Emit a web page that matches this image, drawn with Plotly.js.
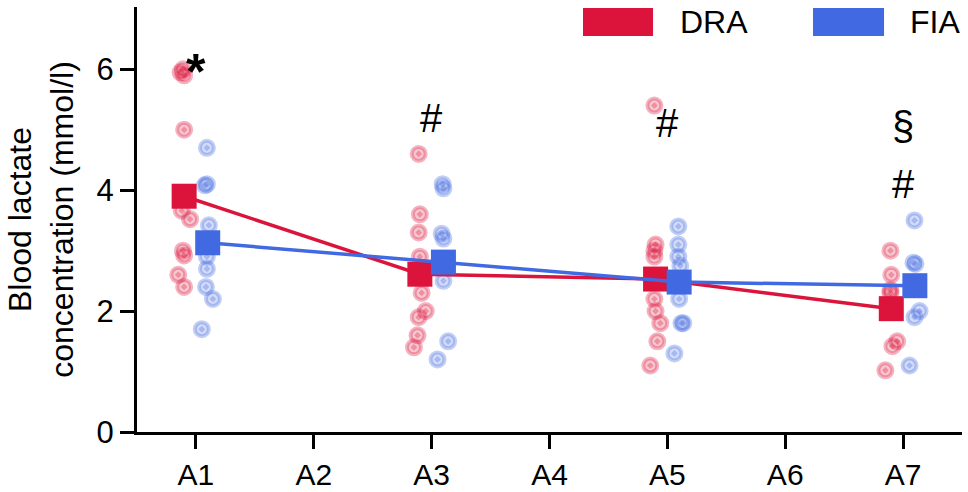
<!DOCTYPE html>
<html>
<head>
<meta charset="utf-8">
<script src="https://cdn.plot.ly/plotly-3.0.1.min.js"></script>
<style>
  html, body { margin: 0; padding: 0; background: #fff; }
  #grafica { width: 968px; height: 492px; }
</style>
</head>
<body>
<div id="grafica"></div>
<script>
const categorias = ['A1', 'A2', 'A3', 'A4', 'A5', 'A6', 'A7'];

// medias por grupo (solo A1, A3, A5, A7)
const indicesMedidos = [0, 2, 4, 6];
const mediaDRA = [3.90, 2.61, 2.53, 2.04];
const mediaFIA = [3.13, 2.81, 2.48, 2.42];

// puntos individuales: categoria, valor, desplazamiento horizontal
const draGrupo = [0, 0, 0, 0, 0, 0, 0, 0, 0, 0,
                  2, 2, 2, 2, 2, 2, 2, 2, 2,
                  4, 4, 4, 4, 4, 4, 4, 4, 4,
                  6, 6, 6, 6, 6, 6, 6];
const draValor = [6.00, 5.95, 5.90, 5.00, 3.66, 3.52, 3.00, 2.92, 2.60, 2.40,
                  4.60, 3.60, 3.30, 2.90, 2.30, 2.00, 1.90, 1.60, 1.40,
                  5.40, 3.10, 3.00, 2.90, 2.20, 2.00, 1.80, 1.50, 1.10,
                  3.00, 2.60, 2.35, 2.30, 1.50, 1.42, 1.02];
const draDesp = [-0.11, -0.13, -0.10, -0.10, -0.12, -0.05, -0.11, -0.10, -0.15, -0.10,
                 -0.11, -0.10, -0.11, -0.10, -0.085, -0.05, -0.11, -0.12, -0.15,
                 -0.11, -0.10, -0.11, -0.11, -0.11, -0.10, -0.06, -0.085, -0.145,
                 -0.107, -0.10, -0.107, -0.107, -0.05, -0.09, -0.15];

const fiaGrupo = [0, 0, 0, 0, 0, 0, 0, 0, 0,
                  2, 2, 2, 2, 2, 2, 2,
                  4, 4, 4, 4, 4, 4, 4, 4,
                  6, 6, 6, 6, 6, 6];
const fiaValor = [4.70, 4.10, 4.08, 3.42, 2.90, 2.70, 2.40, 2.20, 1.70,
                  4.10, 4.03, 3.28, 3.20, 2.50, 1.50, 1.20,
                  3.40, 3.10, 2.90, 2.75, 2.20, 1.80, 1.80, 1.30,
                  3.50, 2.80, 2.78, 2.00, 1.90, 1.10];
const fiaDesp = [0.093, 0.093, 0.076, 0.11, 0.093, 0.093, 0.085, 0.144, 0.05,
                 0.093, 0.10, 0.085, 0.10, 0.10, 0.14, 0.05,
                 0.093, 0.093, 0.093, 0.11, 0.10, 0.12, 0.135, 0.06,
                 0.097, 0.088, 0.105, 0.14, 0.097, 0.055];

// marcas de significancia
const signoTexto = ['<b>*</b>', '#', '#', '§', '#'];
const signoX = [0, 2, 4, 6, 6];
const signoY = [5.95, 5.19, 5.11, 5.06, 4.10];

const COLOR_DRA = '#DC143C';
const COLOR_FIA = '#4169E1';
const FUENTE = 'Liberation Sans, Arial, sans-serif';

function transparente(hex, alfa) {
  const r = parseInt(hex.slice(1, 3), 16);
  const g = parseInt(hex.slice(3, 5), 16);
  const b = parseInt(hex.slice(5, 7), 16);
  return `rgba(${r},${g},${b},${alfa})`;
}

function trazaPuntos(grupo, valor, desp, color) {
  return {
    x: grupo.map((g, i) => g + desp[i]),
    y: valor,
    type: 'scatter',
    mode: 'markers',
    showlegend: false,
    hoverinfo: 'skip',
    marker: {
      symbol: 'circle-dot',
      size: 14,
      color: transparente(color, 0.24),
      line: { color: transparente(color, 0.32), width: 4 }
    }
  };
}

function trazaMedia(media, desp, color, nombre) {
  return {
    x: indicesMedidos.map(i => i + desp),
    y: media,
    type: 'scatter',
    mode: 'lines+markers',
    name: nombre,
    showlegend: false,
    line: { color: color, width: 3.5 },
    marker: { symbol: 'square', size: 25, color: color, line: { width: 0 } }
  };
}

const trazas = [
  trazaPuntos(draGrupo, draValor, draDesp, COLOR_DRA),
  trazaPuntos(fiaGrupo, fiaValor, fiaDesp, COLOR_FIA),
  trazaMedia(mediaDRA, -0.1, COLOR_DRA, 'DRA'),
  trazaMedia(mediaFIA, 0.1, COLOR_FIA, 'FIA')
];

const anotaciones = signoTexto.map((t, i) => ({
  x: signoX[i],
  y: signoY[i],
  xref: 'x',
  yref: 'y',
  text: t,
  showarrow: false,
  xanchor: 'center',
  yanchor: 'middle',
  font: { family: FUENTE, size: i === 0 ? 50 : 40, color: '#000' }
}));

// leyenda dibujada a mano (rectangulos anchos)
const leyenda = [
  { nombre: 'DRA', color: COLOR_DRA, x0: 0.5406, x1: 0.6255, xt: 0.656 },
  { nombre: 'FIA', color: COLOR_FIA, x0: 0.8194, x1: 0.9055, xt: 0.935 }
];

const formas = leyenda.map(l => ({
  type: 'rect',
  xref: 'paper',
  yref: 'paper',
  x0: l.x0,
  x1: l.x1,
  y0: 0.9318,
  y1: 0.9976,
  fillcolor: l.color,
  line: { width: 0 }
}));

leyenda.forEach(l => anotaciones.push({
  x: l.xt,
  y: 0.9647,
  xref: 'paper',
  yref: 'paper',
  text: l.nombre,
  showarrow: false,
  xanchor: 'left',
  yanchor: 'middle',
  font: { family: FUENTE, size: 32, color: '#000' }
}));

const layout = {
  width: 968,
  height: 492,
  paper_bgcolor: '#fff',
  plot_bgcolor: '#fff',
  font: { family: FUENTE, color: '#000' },
  margin: { l: 137, r: 6, t: 7, b: 60 },
  showlegend: false,
  xaxis: {
    range: [-0.5, 6.5],
    tickvals: categorias.map((c, i) => i),
    ticktext: categorias,
    ticks: 'outside',
    ticklen: 14,
    tickwidth: 3,
    tickcolor: '#000',
    showline: true,
    linewidth: 3,
    linecolor: '#000',
    showgrid: false,
    zeroline: false,
    tickfont: { family: FUENTE, size: 30, color: '#000' }
  },
  yaxis: {
    range: [0, 7.03],
    tickvals: [0, 2, 4, 6],
    ticks: 'outside',
    ticklen: 14,
    tickwidth: 3,
    tickcolor: '#000',
    showline: true,
    linewidth: 3,
    linecolor: '#000',
    showgrid: false,
    zeroline: false,
    tickfont: { family: FUENTE, size: 31, color: '#000' },
    title: {
      text: 'Blood lactate<br>concentration (mmol/l)',
      font: { family: FUENTE, size: 32, color: '#000' },
      standoff: 14
    }
  },
  shapes: formas,
  annotations: anotaciones
};

Plotly.newPlot('grafica', trazas, layout, { displayModeBar: false, staticPlot: true });
</script>
</body>
</html>
